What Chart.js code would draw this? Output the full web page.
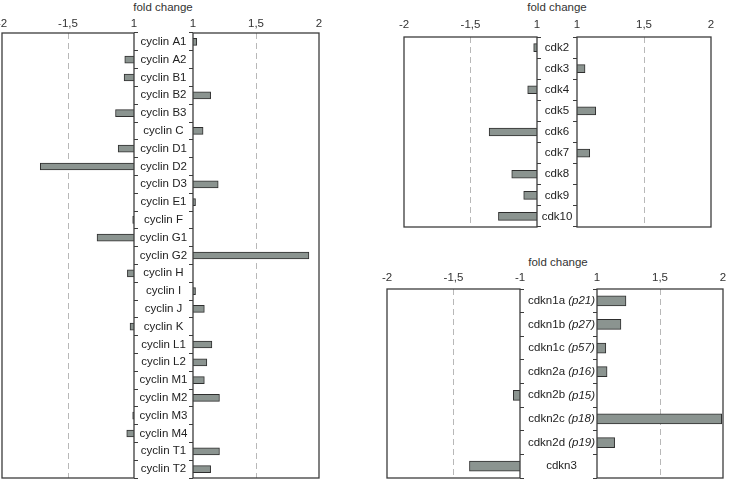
<!DOCTYPE html>
<html>
<head>
<meta charset="utf-8">
<script src="https://cdn.jsdelivr.net/npm/chart.js@4.4.1/dist/chart.umd.min.js"></script>
<style>
  html, body { margin: 0; padding: 0; background: #fff; }
  body { width: 729px; height: 485px; position: relative; overflow: hidden; font-family: "Liberation Sans", Arial, sans-serif; }
  .box { position: absolute; }
  .title { position: absolute; width: 120px; text-align: center; font-size: 11.5px; line-height: 14px; color: #333; }
</style>
</head>
<body>
<div class="title" style="left:103px; top:0px;">fold change</div>
<div class="title" style="left:497px; top:0px;">fold change</div>
<div class="title" style="left:498px; top:255px;">fold change</div>
<script>
// cyclins
const cyclinGenes = ['cyclin A1', 'cyclin A2', 'cyclin B1', 'cyclin B2', 'cyclin B3', 'cyclin C', 'cyclin D1', 'cyclin D2', 'cyclin D3', 'cyclin E1', 'cyclin F', 'cyclin G1', 'cyclin G2', 'cyclin H', 'cyclin I', 'cyclin J', 'cyclin K', 'cyclin L1', 'cyclin L2', 'cyclin M1', 'cyclin M2', 'cyclin M3', 'cyclin M4', 'cyclin T1', 'cyclin T2'];
const cyclinFold = [1.03, -1.07, -1.075, 1.14, -1.14, 1.08, -1.12, -1.71, 1.2, 1.02, -1.01, -1.28, 1.92, -1.05, 1.02, 1.09, -1.03, 1.15, 1.11, 1.09, 1.21, -1.01, -1.055, 1.21, 1.14];

// cdks
const cdkGenes = ['cdk2', 'cdk3', 'cdk4', 'cdk5', 'cdk6', 'cdk7', 'cdk8', 'cdk9', 'cdk10'];
const cdkFold = [-1.025, 1.06, -1.07, 1.14, -1.36, 1.095, -1.19, -1.10, -1.29];

// cdk inhibitors
const cdknGenes = ['cdkn1a', 'cdkn1b', 'cdkn1c', 'cdkn2a', 'cdkn2b', 'cdkn2c', 'cdkn2d', 'cdkn3'];
const cdknAlias = ['p21', 'p27', 'p57', 'p16', 'p15', 'p18', 'p19', ''];
const cdknFold = [1.23, 1.19, 1.07, 1.08, -1.05, 1.99, 1.14, -1.38];

// axis ticks
const negTicks = [-2, -1.5, -1];
const posTicks = [1, 1.5, 2];
const negTickLabels = ['-2', '-1,5', '1'];
const negTickLabelsCdkn = ['-2', '-1,5', '-1'];
const posTickLabels = ['1', '1,5', '2'];

const FONT = '"Liberation Sans", Arial, sans-serif';
const BAR_FILL = '#8b9490';
const BAR_EDGE = '#2e2e2e';
const FRAME = '#3c3c3c';
const PADX = 20, AXH = 22, TICKW = 4, PADB = 4;

// box round each plot area
const framePlugin = {
    id: 'frame',
    afterDatasetsDraw: function(chart) {
        const a = chart.chartArea;
        const ctx = chart.ctx;
        ctx.save();
        ctx.strokeStyle = FRAME;
        ctx.lineWidth = 1.3;
        ctx.strokeRect(a.left, a.top, a.right - a.left, a.bottom - a.top);
        ctx.restore();
    }
};

// gene names in the gap between the two halves
var makeLabelPlugin = function(names, alias, gap, shift) {
    return {
        id: 'geneLabels',
        afterDraw: function(chart) {
            const ctx = chart.ctx;
            const yScale = chart.scales.y;
            const cx = chart.chartArea.right + gap / 2 + shift;
            ctx.save();
            ctx.fillStyle = '#222';
            ctx.textBaseline = 'middle';
            ctx.textAlign = 'left';
            names.forEach(function(name, i) {
                const py = yScale.getPixelForValue(i);
                const extra = alias && alias[i] ? '(' + alias[i] + ')' : '';
                const head = extra ? name + ' ' : name;
                ctx.font = '11.5px ' + FONT;
                const w1 = ctx.measureText(head).width;
                let w2 = 0;
                if (extra) {
                    ctx.font = 'italic 11.5px ' + FONT;
                    w2 = ctx.measureText(extra).width;
                }
                const x = cx - (w1 + w2) / 2;
                ctx.font = '11.5px ' + FONT;
                ctx.fillText(head, x, py);
                if (extra) {
                    ctx.font = 'italic 11.5px ' + FONT;
                    ctx.fillText(extra, x + w1, py);
                }
            });
            ctx.restore();
        }
    };
};

var makeHalf = function(o) {
    const neg = o.side === 'neg';
    const gap = o.gap || 0;
    const wrap = document.createElement('div');
    wrap.className = 'box';
    wrap.style.left = (o.left - PADX) + 'px';
    wrap.style.top = (o.top - AXH) + 'px';
    wrap.style.width = (o.right - o.left + 2 * PADX + gap) + 'px';
    wrap.style.height = (o.bottom - o.top + AXH + PADB) + 'px';
    const canvas = document.createElement('canvas');
    wrap.appendChild(canvas);
    document.body.appendChild(wrap);

    const values = o.fold.map(function(v) {
        if (neg) return v < 0 ? v : null;
        return v > 0 ? v : null;
    });

    const plugins = [framePlugin];
    if (o.labelPlugin) plugins.push(o.labelPlugin);

    return new Chart(canvas, {
        type: 'bar',
        data: {
            labels: o.genes,
            datasets: [{
                data: values,
                backgroundColor: BAR_FILL,
                borderColor: BAR_EDGE,
                borderWidth: 1,
                borderSkipped: false,
                barThickness: o.barThickness
            }]
        },
        options: {
            indexAxis: 'y',
            responsive: true,
            maintainAspectRatio: false,
            animation: false,
            layout: {
                padding: {
                    left: neg ? PADX : PADX - TICKW,
                    right: neg ? PADX - TICKW + gap : PADX,
                    top: 0,
                    bottom: PADB
                }
            },
            plugins: {
                legend: { display: false },
                tooltip: { enabled: false }
            },
            scales: {
                x: {
                    type: 'linear',
                    position: 'top',
                    min: o.ticks[0],
                    max: o.ticks[o.ticks.length - 1],
                    afterBuildTicks: function(s) {
                        s.ticks = o.ticks.map(function(v) { return { value: v }; });
                    },
                    afterFit: function(s) { s.height = AXH; },
                    ticks: {
                        autoSkip: false,
                        maxRotation: 0,
                        padding: o.tickPad,
                        color: '#333',
                        font: { family: FONT, size: 11.5 },
                        callback: function(v, i) { return o.tickLabels[i]; }
                    },
                    grid: {
                        drawTicks: false,
                        lineWidth: 1,
                        color: function(c) {
                            return c.tick && c.tick.value === o.ticks[1] ? '#b8b8b8' : 'rgba(0,0,0,0)';
                        }
                    },
                    border: { display: false, dash: [6, 4] }
                },
                y: {
                    position: neg ? 'right' : 'left',
                    afterFit: function(s) { s.width = TICKW; },
                    ticks: { display: false },
                    grid: {
                        offset: true,
                        drawOnChartArea: false,
                        drawTicks: true,
                        tickLength: TICKW,
                        color: FRAME,
                        lineWidth: 1
                    },
                    border: { display: false }
                }
            }
        },
        plugins: plugins
    });
};

// cyclin panel
makeHalf({ side: 'neg', left: 2, right: 134, top: 33, bottom: 478, gap: 59, genes: cyclinGenes, fold: cyclinFold,
    ticks: negTicks, tickLabels: negTickLabels, tickPad: 2, barThickness: 7,
    labelPlugin: makeLabelPlugin(cyclinGenes, null, 59, 0) });
makeHalf({ side: 'pos', left: 193, right: 319, top: 33, bottom: 478, genes: cyclinGenes, fold: cyclinFold,
    ticks: posTicks, tickLabels: posTickLabels, tickPad: 2, barThickness: 7 });

// cdk panel
makeHalf({ side: 'neg', left: 404, right: 537, top: 37, bottom: 227, gap: 40, genes: cdkGenes, fold: cdkFold,
    ticks: negTicks, tickLabels: negTickLabels, tickPad: 5, barThickness: 8,
    labelPlugin: makeLabelPlugin(cdkGenes, null, 40, 0) });
makeHalf({ side: 'pos', left: 577, right: 711, top: 37, bottom: 227, genes: cdkGenes, fold: cdkFold,
    ticks: posTicks, tickLabels: posTickLabels, tickPad: 5, barThickness: 8 });

// cdk inhibitor panel
makeHalf({ side: 'neg', left: 387, right: 520, top: 289, bottom: 478, gap: 77, genes: cdknGenes, fold: cdknFold,
    ticks: negTicks, tickLabels: negTickLabelsCdkn, tickPad: 4, barThickness: 10,
    labelPlugin: makeLabelPlugin(cdknGenes, cdknAlias, 77, 3) });
makeHalf({ side: 'pos', left: 597, right: 723, top: 289, bottom: 478, genes: cdknGenes, fold: cdknFold,
    ticks: posTicks, tickLabels: posTickLabels, tickPad: 4, barThickness: 10 });
</script>
</body>
</html>
